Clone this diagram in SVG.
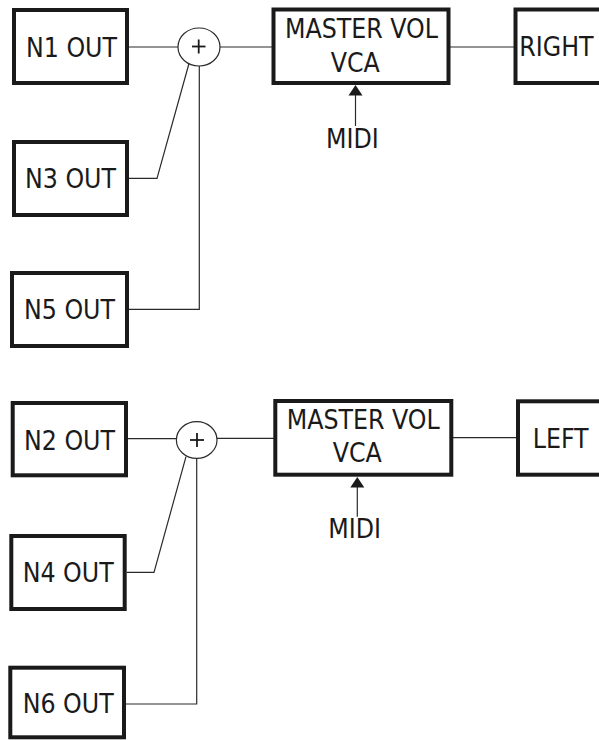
<svg xmlns="http://www.w3.org/2000/svg" width="599" height="740" viewBox="0 0 599 740">
<style>
.box{fill:#fff;stroke:#1a1a1a;stroke-width:4}
.ln{fill:none;stroke:#2a2a2a;stroke-width:1.2}
.sum{fill:#fff;stroke:#2a2a2a;stroke-width:1.2}
.plus{stroke:#1a1a1a;stroke-width:1.8}
.t{font-family:"DejaVu Sans Condensed","DejaVu Sans",sans-serif;font-stretch:condensed;font-size:26.4px;fill:#1a1a1a}
.ah{fill:#1a1a1a}
</style>
<rect width="599" height="740" fill="#fff"/>
<g id="connectors">
<line class="ln" x1="129" y1="47" x2="178" y2="47"/>
<line class="ln" x1="220" y1="47" x2="272" y2="47"/>
<line class="ln" x1="450" y1="47" x2="514" y2="47"/>
<polyline class="ln" points="129,178.3 157,178.3 189,63.5"/>
<polyline class="ln" points="128,309.3 199.3,309.3 199.3,66"/>
<line class="ln" x1="355.5" y1="126" x2="355.5" y2="94"/>
<polygon class="ah" points="355.5,85 348.5,95.5 362.5,95.5"/>
<line class="ln" x1="127" y1="438.7" x2="176.5" y2="438.7"/>
<line class="ln" x1="217" y1="438.3" x2="274" y2="438.3"/>
<line class="ln" x1="452" y1="437.7" x2="517" y2="437.7"/>
<polyline class="ln" points="126.7,572.3 154,572.3 186,456.7"/>
<polyline class="ln" points="125,704 196.7,704 196.7,458.5"/>
<line class="ln" x1="357.3" y1="516.7" x2="357.3" y2="486"/>
<polygon class="ah" points="357.3,477 350.3,487.5 364.3,487.5"/>
</g>
<g id="n1"><rect class="box" x="14" y="10" width="113" height="73"/><text class="t" x="26" y="57.3">N1 OUT</text></g>
<g id="n3"><rect class="box" x="14" y="142" width="113" height="73"/><text class="t" x="25" y="188.3">N3 OUT</text></g>
<g id="n5"><rect class="box" x="12" y="273" width="115" height="73"/><text class="t" x="24" y="319.3">N5 OUT</text></g>
<g id="sum1"><ellipse class="sum" cx="199" cy="47" rx="21" ry="19"/><line class="plus" x1="192" y1="46.5" x2="205.5" y2="46.5"/><line class="plus" x1="198.7" y1="39.5" x2="198.7" y2="53.5"/></g>
<g id="vca1"><rect class="box" x="273.5" y="9.5" width="175" height="73.5"/><text class="t" x="285" y="38.3">MASTER VOL</text><text class="t" x="330.7" y="71.7">VCA</text></g>
<g id="right"><rect class="box" x="515.5" y="9.5" width="100" height="73.5"/><text class="t" x="519.3" y="56">RIGHT</text></g>
<g id="midi1"><text class="t" x="326" y="147.7">MIDI</text></g>
<g id="n2"><rect class="box" x="12.7" y="403" width="113.3" height="72.3"/><text class="t" x="24" y="450">N2 OUT</text></g>
<g id="n4"><rect class="box" x="11.3" y="536" width="113.4" height="73"/><text class="t" x="22.7" y="581.7">N4 OUT</text></g>
<g id="n6"><rect class="box" x="10.3" y="667.7" width="113.7" height="69.6"/><text class="t" x="22.7" y="713.3">N6 OUT</text></g>
<g id="sum2"><ellipse class="sum" cx="196.7" cy="440" rx="20.3" ry="18.3"/><line class="plus" x1="190" y1="440" x2="204" y2="440"/><line class="plus" x1="197" y1="433" x2="197" y2="447"/></g>
<g id="vca2"><rect class="box" x="275.3" y="401" width="176" height="73.7"/><text class="t" x="286.7" y="429.3">MASTER VOL</text><text class="t" x="332.7" y="462.3">VCA</text></g>
<g id="left"><rect class="box" x="518" y="401.3" width="100" height="73.4"/><text class="t" x="532.7" y="448.3">LEFT</text></g>
<g id="midi2"><text class="t" x="328.3" y="538.3">MIDI</text></g>
</svg>
